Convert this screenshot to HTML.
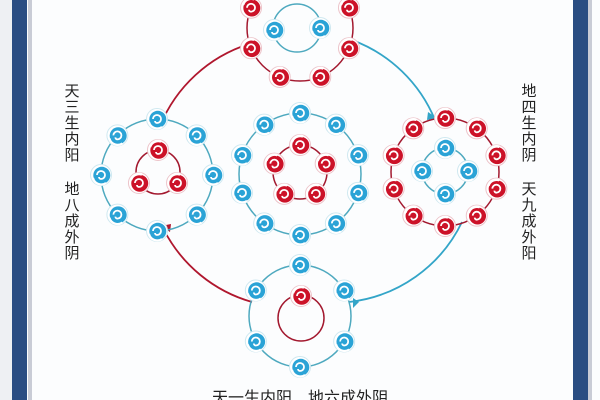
<!DOCTYPE html>
<html><head><meta charset="utf-8">
<style>
html,body{margin:0;padding:0;background:#fff;}
.wrap{position:relative;width:600px;height:400px;overflow:hidden;background:#fcfdfe;}
.t{position:absolute;font-family:"Liberation Sans","Noto Sans CJK SC",sans-serif;color:#222;font-size:15px;line-height:16px;width:16px;text-align:center;}
</style></head><body>
<div class="wrap">
<div style="position:absolute;left:0;top:0;width:12px;height:400px;background:#eef0f3"></div>
<div style="position:absolute;left:12px;top:0;width:15px;height:400px;background:#2a4d82"></div>
<div style="position:absolute;left:28px;top:0;width:4px;height:400px;background:#c9ccd6"></div>
<div style="position:absolute;left:573px;top:0;width:15px;height:400px;background:#2a4d82"></div>
<div style="position:absolute;left:588px;top:0;width:4px;height:400px;background:#c9ccd6"></div>
<svg id="s" width="600" height="400" style="position:absolute;left:0;top:0">
<defs>
<g id="nb"><circle r="10.5" fill="#fff" stroke="#cfe8f0" stroke-width="1"/><circle cx="0.8" cy="0.3" r="8.5" fill="#2aa3d6"/><path d="M-4,0 a4,4 0 1 1 4,4 a2,2 0 0 1 -2,-2" fill="none" stroke="#fff" stroke-width="1.8"/><path d="M-8,3 A8.5,8.5 0 0 0 5,8" fill="none" stroke="#fff" stroke-width="2.2"/></g>
<g id="nr"><circle r="10.5" fill="#fff" stroke="#ecc4ca" stroke-width="1"/><circle cx="0.8" cy="0.3" r="8.5" fill="#cc1228"/><path d="M-4,0 a4,4 0 1 1 4,4 a2,2 0 0 1 -2,-2" fill="none" stroke="#fff" stroke-width="1.8"/><path d="M-8,-3 A8.5,8.5 0 0 1 3,-8.5" fill="none" stroke="#fff" stroke-width="2.6"/></g>
</defs>
<g fill="none" stroke-width="1.8">
<path d="M160,126 A143,143 0 0 1 249,44" stroke="#b0172e"/>
<path d="M352,40 A143,143 0 0 1 435,120" stroke="#33a5c8"/>
<path d="M462,222 A143,143 0 0 1 349,302" stroke="#33a5c8"/>
<path d="M252,302 A143,143 0 0 1 164,230" stroke="#b0172e"/>
</g>
<path d="M428,112 l9,6 l-10,2 z" fill="#33a5c8"/>
<path d="M353,298 l0,10 l6,-6 z" fill="#33a5c8"/>
<path d="M170,232 l-9,-6 l10,-2 z" fill="#b0172e"/>
</svg>
<div class="t" style="left:64px;top:84px">天三生内阳</div>
<div class="t" style="left:64px;top:182px">地八成外阴</div>
<div class="t" style="left:521px;top:84px">地四生内阴</div>
<div class="t" style="left:521px;top:182px">天九成外阳</div>
<div style="position:absolute;left:212px;top:384px;font-family:'Liberation Sans','Noto Sans CJK SC',sans-serif;font-size:16px;color:#222;white-space:nowrap">天一生内阳　地六成外阴</div>
</div>
<script>
var s=document.getElementById('s'),NS='http://www.w3.org/2000/svg';
function circ(cx,cy,r,col){var c=document.createElementNS(NS,'circle');c.setAttribute('cx',cx);c.setAttribute('cy',cy);c.setAttribute('r',r);c.setAttribute('fill','none');c.setAttribute('stroke',col);c.setAttribute('stroke-width','1.5');s.appendChild(c);}
function ring(cx,cy,r,n,a0,col){
 var p=[];for(var i=0;i<n;i++){var a=(a0+360*i/n)*Math.PI/180;p.push([cx+r*Math.cos(a),cy+r*Math.sin(a)]);}
 circ(cx,cy,r,col);
 return p;
}
function nodes(p,id){p.forEach(function(q){var u=document.createElementNS(NS,'use');u.setAttribute('href','#'+id);u.setAttribute('x',q[0]);u.setAttribute('y',q[1]);s.appendChild(u);});}
var B='#4ea9bf',R='#a3192f',p,i,a;
p=ring(300,28,53,8,-112.5,R);nodes(p,'nr');
circ(297,28,24,B);nodes([[274,30],[320,28]],'nb');
p=ring(157,175,56,8,-90,B);nodes(p,'nb');
circ(158,172,22,R);p=[];for(i=0;i<3;i++){a=(-90+120*i)*Math.PI/180;p.push([158+22*Math.cos(a),172+22*Math.sin(a)]);}nodes(p,'nr');
p=ring(300,174,61,10,-90,B);nodes(p,'nb');
p=ring(300,172,27,5,-90,R);nodes(p,'nr');
p=ring(445,172,54,10,-90,R);nodes(p,'nr');
p=ring(445,171,23,4,-90,B);nodes(p,'nb');
p=ring(300,316,51,6,-90,B);nodes(p,'nb');
circ(301,318,23,R);nodes([[301,296]],'nr');
</script>
</body></html>
